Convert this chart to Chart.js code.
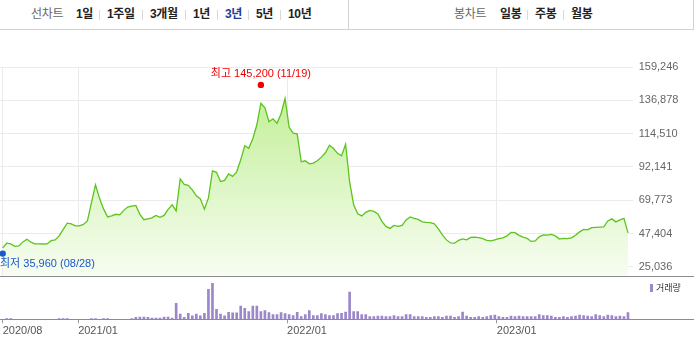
<!DOCTYPE html>
<html>
<head>
<meta charset="utf-8">
<title>3년 차트</title>
<script src="https://cdn.jsdelivr.net/npm/chart.js"></script>
<style>
  body {
    margin: 0;
    width: 694px;
    height: 340px;
    overflow: hidden;
    background: #fff;
    position: relative;
    font-family: "Liberation Sans", "Noto Sans CJK KR", sans-serif;
  }
  .topbar { position: absolute; left: 0; top: 0; width: 694px; height: 29px; border-bottom: 1px solid #d2d2d2; }
  .rightbox { position: absolute; left: 348px; top: 0; width: 344px; height: 29px; border-left: 1px solid #d2d2d2; border-right: 1px solid #d2d2d2; }
  .tab { position: absolute; top: 7px; font-size: 12px; line-height: 15px; font-weight: bold; color: #222; white-space: nowrap; letter-spacing: -0.3px; }
  .tab.label { font-weight: normal; color: #666; }
  .tab.on { color: #1c3f9e; }
  .sep { position: absolute; top: 10px; width: 1px; height: 10px; background: #dadada; }
  #priceWrap { position: absolute; left: 0; top: 35px; }
  #volWrap { position: absolute; left: 0; top: 277px; }
  .hline { position: absolute; left: 0; width: 694px; height: 1px; background: #8c8c8c; }
  .legend { position: absolute; left: 650px; top: 283px; font-size: 9px; line-height: 11px; color: #333; white-space: nowrap; }
  .legend i { display: inline-block; width: 3px; height: 8px; background: #9b87c9; margin-right: 3px; vertical-align: -1px; }
</style>
</head>
<body>
  <div class="topbar">
    <span class="tab label" style="left:31px">선차트</span>
    <span class="tab" style="left:76px">1일</span>
    <span class="sep" style="left:99px"></span>
    <span class="tab" style="left:107px">1주일</span>
    <span class="sep" style="left:142px"></span>
    <span class="tab" style="left:150px">3개월</span>
    <span class="sep" style="left:185px"></span>
    <span class="tab" style="left:193px">1년</span>
    <span class="sep" style="left:217px"></span>
    <span class="tab on" style="left:225px">3년</span>
    <span class="sep" style="left:248px"></span>
    <span class="tab" style="left:256px">5년</span>
    <span class="sep" style="left:280px"></span>
    <span class="tab" style="left:288px">10년</span>
  </div>
  <div class="rightbox">
    <span class="tab label" style="left:105px">봉차트</span>
    <span class="tab" style="left:151px">일봉</span>
    <span class="sep" style="left:178px"></span>
    <span class="tab" style="left:186px">주봉</span>
    <span class="sep" style="left:214px"></span>
    <span class="tab" style="left:222px">월봉</span>
  </div>

  <div id="priceWrap"><canvas id="priceChart" width="694" height="241"></canvas></div>
  <div class="hline" style="top:276px"></div>
  <div id="volWrap"><canvas id="volChart" width="694" height="63"></canvas></div>
  <div class="hline" style="top:319px"></div>
  <div class="legend"><i></i>거래량</div>

<script>
  // weekly data, first week = 2020-08-28
  const closes = [
    37760, 40920, 40450, 38770, 39110, 41800, 43610, 41590, 40450, 40500,
    40400, 40450, 42600, 43140, 45830, 50200, 54370, 53900, 52550, 52600,
    53560, 55910, 68220, 80120, 71040, 63980, 58600, 59280, 60350, 59950,
    62970, 65190, 65850, 66330, 60280, 56720, 57330, 57930, 59610, 58270,
    59610, 63650, 66670, 62640, 84150, 80450, 79780, 76760, 72720, 70700,
    63780, 71380, 89530, 88520, 82340, 83140, 87510, 85830, 88860, 96920,
    106340, 104660, 111040, 120450, 134910, 131880, 122470, 124490, 121460, 127850,
    138270, 118770, 114870, 114400, 95580, 96250, 94240, 94710, 96250, 98740,
    101630, 106670, 104520, 101290, 99610, 107340, 82130, 66670, 60620, 59280,
    61630, 62970, 62300, 60600, 55580, 52220, 50870, 52890, 52220, 52890,
    56590, 58600, 57590, 56920, 55240, 54910, 54770, 53900, 50540, 46500,
    43140, 41120, 40920, 42800, 43810, 43140, 44820, 44960, 44690, 43950,
    42800, 42470, 43140, 43950, 44480, 45830, 48180, 47980, 46170, 45020,
    44150, 42130, 42470, 45160, 46500, 46300, 46840, 45830, 43680, 44150,
    43950, 44480, 46300, 48520, 50200, 49860, 51410, 51540, 51700, 51880,
    55910, 57260, 55240, 56590, 57590, 47850
  ];

  const volumes = [
    0, 70000, 70000, 0, 0, 0, 0, 0, 0, 0,
    0, 0, 0, 0, 70000, 70000, 70000, 0, 0, 0,
    0, 0, 70000, 70000, 0, 70000, 70000, 0, 0, 0,
    0, 0, 70000, 200000, 230000, 230000, 200000, 130000, 130000, 130000,
    230000, 230000, 130000, 1600000, 530000, 200000, 600000, 350000, 530000, 350000,
    600000, 3000000, 3600000, 1000000, 530000, 350000, 700000, 650000, 650000, 1330000,
    1100000, 770000, 1330000, 1330000, 770000, 870000, 670000, 470000, 470000, 670000,
    570000, 470000, 370000, 700000, 270000, 470000, 870000, 370000, 370000, 570000,
    470000, 370000, 370000, 570000, 600000, 730000, 2730000, 770000, 770000, 470000,
    470000, 270000, 270000, 330000, 330000, 270000, 270000, 370000, 270000, 270000,
    470000, 470000, 270000, 270000, 270000, 200000, 200000, 270000, 270000, 200000,
    330000, 330000, 200000, 270000, 730000, 330000, 200000, 200000, 270000, 200000,
    270000, 370000, 430000, 270000, 200000, 200000, 330000, 270000, 330000, 270000,
    270000, 270000, 270000, 470000, 370000, 370000, 330000, 200000, 200000, 270000,
    200000, 270000, 330000, 430000, 370000, 330000, 270000, 470000, 370000, 270000,
    430000, 370000, 270000, 330000, 270000, 670000
  ];

  const xTickLabels = ['2020/08', '2021/01', '2022/01', '2023/01'];
  const xTickWeeks = [0, 18.7, 70.5, 122.5];
  const yTickValues = [25036, 47404, 69773, 92141, 114510, 136878, 159246];

  const highMark = { week: 64, price: 145200, date: '11/19', name: '최고' };
  const lowMark = { week: 0, price: 35960, date: '08/28', name: '최저' };

  Chart.defaults.font.family = '"Liberation Sans", "Noto Sans CJK KR", sans-serif';

  const xMin = -0.67, xMax = 156.17;

  const extremesPlugin = {
    id: 'extremes',
    afterDatasetsDraw(chart) {
      const { ctx, scales: { x, y } } = chart;
      ctx.save();
      ctx.font = '11px "Liberation Sans", "Noto Sans CJK KR", sans-serif';
      ctx.textBaseline = 'middle';
      ctx.textAlign = 'left';
      [[highMark, '#f00000', -1], [lowMark, '#1a58cc', 1]].forEach(([m, color, dir]) => {
        const px = x.getPixelForValue(m.week);
        const py = y.getPixelForValue(m.price) + dir * 3;
        ctx.fillStyle = color;
        ctx.beginPath();
        ctx.arc(px, py, 3.2, 0, Math.PI * 2);
        ctx.fill();
        const text = m.name + ' ' + m.price.toLocaleString('en-US') + ' (' + m.date + ')';
        const w = ctx.measureText(text).width;
        const lx = Math.max(0, Math.min(chart.width - w, px - w / 2));
        ctx.fillText(text, lx, py + dir * 10.5);
      });
      ctx.restore();
    }
  };

  new Chart(document.getElementById('priceChart'), {
    type: 'line',
    data: {
      datasets: [{
        data: closes.map((v, i) => ({ x: i, y: v })),
        borderColor: '#5cc41c',
        borderWidth: 1.3,
        pointRadius: 0,
        tension: 0,
        fill: 'start',
        backgroundColor: (c) => {
          const { ctx, chartArea } = c.chart;
          if (!chartArea) return 'rgba(190,239,140,0.6)';
          const g = ctx.createLinearGradient(0, chartArea.top, 0, chartArea.bottom);
          g.addColorStop(0, '#bbed8a');
          g.addColorStop(1, '#f7fdf2');
          return g;
        }
      }]
    },
    options: {
      responsive: false,
      animation: false,
      layout: { padding: { top: 32, left: 0, right: 0, bottom: 0 } },
      plugins: { legend: { display: false }, tooltip: { enabled: false } },
      scales: {
        x: {
          type: 'linear', min: xMin, max: xMax, bounds: 'data',
          afterBuildTicks: s => { s.ticks = xTickWeeks.map(v => ({ value: v })); },
          ticks: { display: false },
          grid: { color: '#ebebeb', drawTicks: false },
          border: { display: false },
          afterFit: s => { s.height = 0; s.paddingLeft = 0; s.paddingRight = 0; }
        },
        y: {
          position: 'right', min: 18900, max: 159246, bounds: 'data',
          afterBuildTicks: s => { s.ticks = yTickValues.map(v => ({ value: v })); },
          ticks: { padding: 6, color: '#666', font: { size: 11 }, callback: v => v.toLocaleString('en-US') },
          grid: { color: '#ebebeb', drawTicks: false },
          border: { display: false },
          afterFit: s => { s.width = 61.3; s.paddingTop = 0; s.paddingBottom = 0; }
        }
      }
    },
    plugins: [extremesPlugin]
  });

  new Chart(document.getElementById('volChart'), {
    type: 'bar',
    data: {
      datasets: [{
        data: volumes.map((v, i) => ({ x: i, y: v })),
        backgroundColor: '#9b87c9',
        barThickness: 2
      }]
    },
    options: {
      responsive: false,
      animation: false,
      layout: { padding: { top: 4, left: 0, right: 0, bottom: 0 } },
      plugins: { legend: { display: false }, tooltip: { enabled: false } },
      scales: {
        x: {
          type: 'linear', min: xMin, max: xMax, bounds: 'data', offset: false,
          afterBuildTicks: s => { s.ticks = xTickWeeks.map(v => ({ value: v })); },
          ticks: {
            align: 'start', padding: 1, color: '#555', font: { size: 11 },
            maxRotation: 0, autoSkip: false,
            callback: (v, i) => xTickLabels[i]
          },
          grid: { offset: false, drawOnChartArea: false, drawTicks: true, tickLength: 4, color: '#999' },
          border: { display: false },
          afterFit: s => { s.height = 20.7; s.paddingLeft = 0; s.paddingRight = 0; }
        },
        y: {
          position: 'right', min: 0, max: 3830000,
          ticks: { display: false },
          grid: { display: false },
          border: { display: false },
          afterFit: s => { s.width = 61.3; s.paddingTop = 0; s.paddingBottom = 0; }
        }
      }
    }
  });
</script>
</body>
</html>
